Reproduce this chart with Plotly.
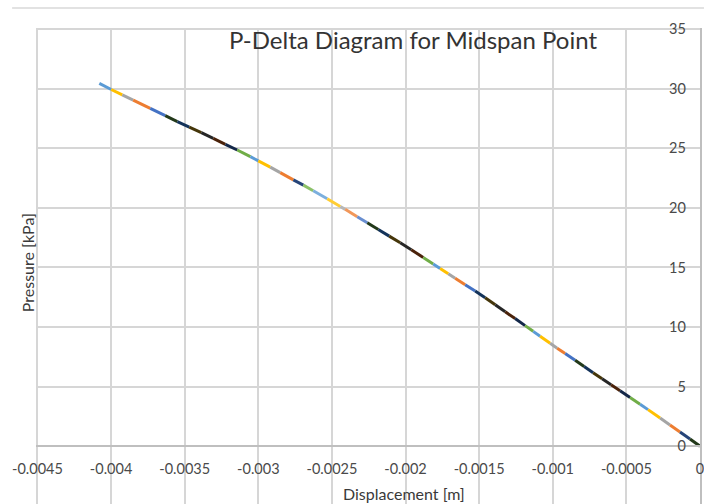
import plotly.graph_objects as go

# Displacement [m] and pressure [kPa]
displacement = [
    -0.004080, -0.003999, -0.003924, -0.003850, -0.003734, -0.003632,
    -0.003550, -0.003469, -0.003387, -0.003306, -0.003224, -0.003143,
    -0.003054, -0.003000, -0.002919, -0.002851, -0.002762, -0.002694,
    -0.002627, -0.002532, -0.002443, -0.002410, -0.002328, -0.002260,
    -0.002185, -0.002111, -0.002036, -0.001961, -0.001880,
    -0.001812, -0.001765, -0.001710, -0.001663, -0.001595, -0.001527,
    -0.001459, -0.001391, -0.001323, -0.001256, -0.001188,
    -0.001133, -0.001086, -0.001018, -0.000970, -0.000916, -0.000848,
    -0.000787, -0.000726, -0.000665, -0.000604, -0.000543, -0.000475,
    -0.000407, -0.000353, -0.000271, -0.000204, -0.000136, -0.000068, 0.0,
]
pressure = [
    30.45, 29.94, 29.49, 29.05, 28.35, 27.74,
    27.25, 26.78, 26.32, 25.84, 25.34, 24.86,
    24.30, 23.95, 23.42, 22.96, 22.35, 21.91,
    21.44, 20.77, 20.12, 19.88, 19.26, 18.75,
    18.19, 17.63, 17.07, 16.49, 15.84,
    15.30, 14.92, 14.48, 14.10, 13.56, 13.02,
    12.46, 11.87, 11.28, 10.71, 10.12,
    9.64, 9.23, 8.64, 8.23, 7.79, 7.21,
    6.69, 6.17, 5.66, 5.15, 4.66, 4.09,
    3.53, 3.07, 2.37, 1.78, 1.19, 0.60, 0.0,
]

# one colour per load-step segment (Excel series palette)
LB, GO, GR, OR, BL, GN = "#5B9BD5", "#FFC000", "#A5A5A5", "#ED7D31", "#4472C4", "#70AD47"
NV = "#264478"
DARK = ["#22391a", "#14335a", "#45360a", "#262626", "#4a220a", "#132748"]
LIGHT = ["#8CC168", "#7CAFDD", "#FFCD33", "#B7B7B7", "#F1975A", "#698ED0"]
segment_colors = (
    [LB, GO, GR, OR, BL] + DARK +
    [GN, LB, GO, GR, OR, NV] + LIGHT +
    DARK[:5] +
    [GN, LB, GO, GR, OR, BL] + DARK[1:6] +
    [GN, LB, GO, GR, OR, BL] + DARK +
    [GN, LB, GO, GR, OR, NV, DARK[0]]
)

x_tick_vals = [-0.0045, -0.004, -0.0035, -0.003, -0.0025, -0.002, -0.0015, -0.001, -0.0005, 0]
x_tick_text = ["-0.0045", "-0.004", "-0.0035", "-0.003", "-0.0025", "-0.002", "-0.0015", "-0.001", "-0.0005", "0"]
y_tick_vals = [0, 5, 10, 15, 20, 25, 30, 35]

FONT = "Lato"
Y_MIN, Y_MAX = -4.85, 35.1
X_MIN, X_MAX = -0.00451, 0.0

fig = go.Figure()
n = min(len(segment_colors), len(displacement) - 1)
for i in range(n):
    fig.add_trace(go.Scatter(
        x=displacement[i:i + 2], y=pressure[i:i + 2], mode="lines",
        line=dict(color=segment_colors[i], width=3),
        showlegend=False, hoverinfo="x+y",
    ))

fig.update_layout(
    width=704, height=504,
    margin=dict(l=36, r=4, t=28, b=0),
    paper_bgcolor="white", plot_bgcolor="white",
    font=dict(family=FONT, size=14, color="#595959"),
    showlegend=False,
    xaxis=dict(
        range=[X_MIN, X_MAX], tickvals=x_tick_vals, ticktext=x_tick_text,
        showgrid=True, gridcolor="#d6d6d6", gridwidth=2,
        zeroline=False, showline=True, linecolor="#bfbfbf", linewidth=2,
        anchor="free", position=(0 - Y_MIN) / (Y_MAX - Y_MIN),
        ticks="", ticklabelstandoff=9, ticklabeloverflow="allow",
        tickfont=dict(family=FONT, size=14.5, color="#4a4a4a"),
    ),
    yaxis=dict(
        range=[Y_MIN, Y_MAX], tickvals=y_tick_vals,
        side="right", anchor="x", ticklabelposition="inside",
        showgrid=True, gridcolor="#d6d6d6", gridwidth=2,
        zeroline=False, showline=True, linecolor="#bfbfbf", linewidth=2,
        ticks="", ticklabelstandoff=14, ticklabeloverflow="allow",
        tickfont=dict(family=FONT, size=14.5, color="#4a4a4a"),
    ),
    annotations=[
        dict(text="P-Delta Diagram for Midspan Point", xref="paper", yref="paper",
             x=0.5678, y=0.9748, xanchor="center", yanchor="middle", showarrow=False,
             font=dict(family=FONT, size=24, color="#333333")),
        dict(text="Displacement [m]", xref="paper", yref="paper",
             x=0.554, y=0.0231, xanchor="center", yanchor="middle", showarrow=False,
             font=dict(family=FONT, size=16, color="#3a3a3a")),
        dict(text="Pressure [kPa]", xref="paper", yref="paper", textangle=-90,
             x=-0.0136, y=0.508, xanchor="center", yanchor="middle", showarrow=False,
             font=dict(family=FONT, size=16, color="#3a3a3a")),
    ],
    shapes=[
        dict(type="line", xref="paper", yref="paper", x0=-0.036, x1=1.006,
             y0=1.042, y1=1.042, line=dict(color="#d9d9d9", width=1.5)),
    ],
)

fig.write_html("out.html")
